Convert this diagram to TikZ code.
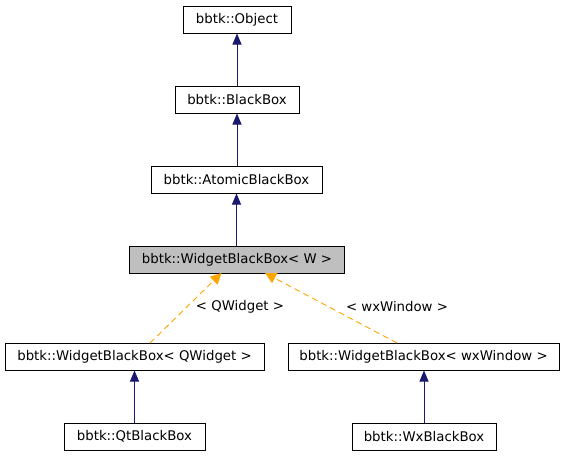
\documentclass[tikz,border=0pt]{standalone}
\usepackage{fontspec}
\setmainfont{DejaVu Sans}
\usetikzlibrary{arrows.meta}
\definecolor{navyedge}{HTML}{191970}
\definecolor{orangeedge}{HTML}{FFA500}
\definecolor{grayfill}{HTML}{BFBFBF}
\begin{document}
\begin{tikzpicture}[x=1pt,y=-1pt,
  cls/.style={draw=black,line width=1pt,fill=white,inner sep=0pt,minimum height=27pt,
    font=\fontsize{13.3}{16}\selectfont,text=black},
  inh/.style={draw=navyedge,line width=0.9pt,-{Triangle[length=11pt,width=9pt,fill=navyedge]}},
  tmpl/.style={draw=orangeedge,line width=0.9pt,dash pattern=on 6pt off 4pt,-{Triangle[length=11pt,width=11pt,fill=orangeedge]}},
  lbl/.style={font=\fontsize{13.3}{16}\selectfont,text=black}]
\useasboundingbox (0,0) rectangle (565,456);
\node[cls,minimum width=108pt] (obj) at (237,19.5) {bbtk::Object};
\node[cls,minimum width=124pt] (bb) at (237,99.5) {bbtk::BlackBox};
\node[cls,minimum width=171pt] (abb) at (236.5,179.5) {bbtk::AtomicBlackBox};
\node[cls,minimum width=215pt,fill=grayfill] (wbb) at (237,259.5) {bbtk::WidgetBlackBox< W >};
\node[cls,minimum width=259pt] (wq) at (134.5,356.5) {bbtk::WidgetBlackBox< QWidget >};
\node[cls,minimum width=271pt] (ww) at (423.5,356.5) {bbtk::WidgetBlackBox< wxWindow >};
\node[cls,minimum width=141pt] (qt) at (134.5,436.5) {bbtk::QtBlackBox};
\node[cls,minimum width=144pt] (wx) at (424,436.5) {bbtk::WxBlackBox};
\draw[inh] (bb.north) -- (obj.south);
\draw[inh] (abb.north -| bb.north) -- (bb.south);
\draw[inh] (wbb.north -| abb.north) -- (abb.south);
\draw[inh] (qt.north) -- (wq.south);
\draw[inh] (wx.north) -- (wx.north |- ww.south);
\coordinate (qs) at (150,343);
\coordinate (qe) at (221.5,273);
\coordinate (ws) at (397,343);
\coordinate (we) at (265,273);
\draw[tmpl] (qs) -- (qe);
\draw[tmpl] (ws) -- (we);
\node[lbl] (ql) at (240,306.5) {< QWidget >};
\node[lbl] (wl) at (397,306.5) {< wxWindow >};
\end{tikzpicture}
\end{document}
